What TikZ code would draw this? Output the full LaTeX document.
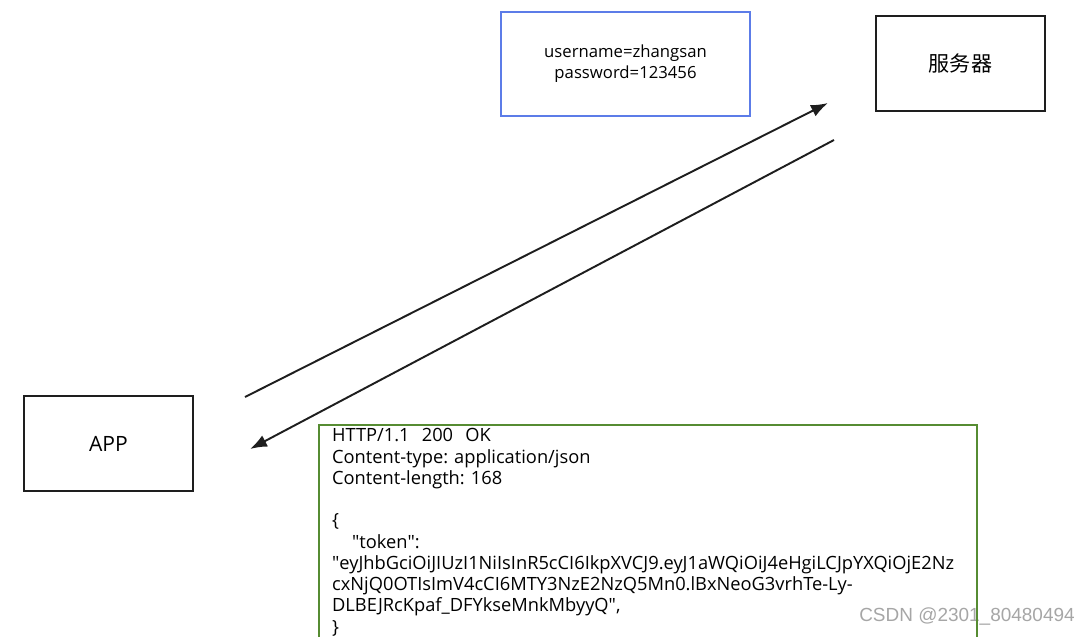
\documentclass[tikz,border=0pt]{standalone}
\usepackage{fontspec}
\setmainfont{Open Sans}
\newfontfamily\cjk{Noto Sans CJK SC}
\newfontfamily\wmfont{Liberation Sans}
\usetikzlibrary{calc,arrows.meta}

\begin{document}
\begin{tikzpicture}[x=0.02cm,y=-0.02cm,>={Latex[length=0.34cm,width=0.25cm]}]
\useasboundingbox (0,0) rectangle (1089,636);
\clip (0,0) rectangle (1089,636);
\frenchspacing

\definecolor{boxblue}{RGB}{92,124,232}
\definecolor{boxgreen}{RGB}{86,140,50}
\definecolor{inkgray}{RGB}{30,30,30}
\tikzset{endbox/.style={draw=inkgray, line width=1.4pt, minimum width=3.38cm, minimum height=1.9cm, font=\fontsize{12}{14}\selectfont}}

\node[endbox] (app) at (108.5,443.5) {APP};
\node[endbox] (server) at (960.5,63.5) {\cjk 服务器};
\node[draw=boxblue, line width=1.3pt, minimum width=4.98cm, minimum height=2.08cm, align=center, font=\fontsize{9.5}{12.1}\selectfont] (cred) at (625.5,64) {username=zhangsan\\password=123456};
\node[text=black!35, font=\wmfont\fontsize{10.8}{13}\selectfont] (mark) at (967,617) {CSDN @2301\_80480494};
\node[draw=boxgreen, line width=1.3pt, anchor=north west, text width=12.64cm, inner xsep=0.26cm, inner ysep=2pt, align=left, font=\fontsize{10.4}{12.1}\selectfont] (resp) at (318,424) {HTTP/1.1\ \ 200\ \ OK\\Content-type: application/json\\Content-length: 168\\[\baselineskip]\{\\\hspace*{0.4cm}\textquotedbl token\textquotedbl:\\\textquotedbl eyJhbGciOiJIUzI1NiIsInR5cCI6IkpXVCJ9.eyJ1aWQiOiJ4eHgiLCJpYXQiOjE2Nz\\cxNjQ0OTIsImV4cCI6MTY3NzE2NzQ5Mn0.lBxNeoG3vrhTe-Ly-\\DLBEJRcKpaf\_DFYkseMnkMbyyQ\textquotedbl,\\\}};

\coordinate (req start) at (245,397);
\coordinate (req end) at (828,103);
\coordinate (res start) at (834,140);
\coordinate (res end) at (250,449);
\draw [->, draw=inkgray, line width=1.1pt] (req start) -- (req end);
\draw [->, draw=inkgray, line width=1.1pt] (res start) -- (res end);
\end{tikzpicture}
\end{document}
